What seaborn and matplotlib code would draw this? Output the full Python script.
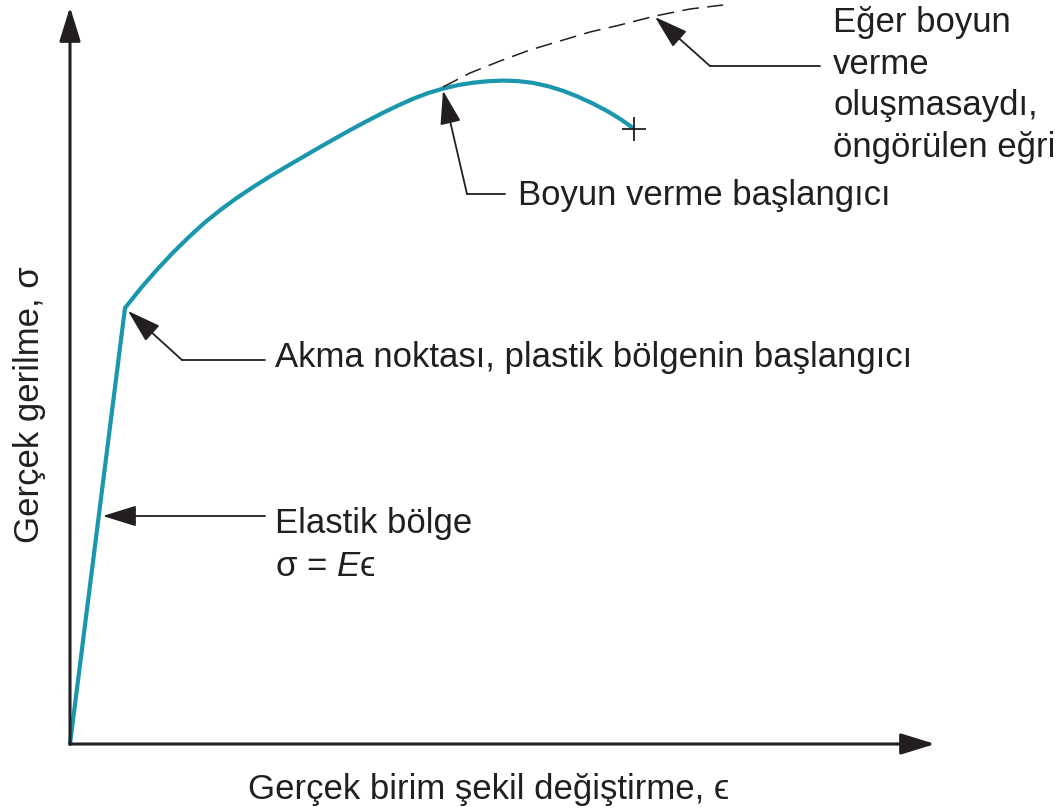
import matplotlib
matplotlib.use("Agg")
import matplotlib.pyplot as plt
import seaborn as sns
import pandas as pd

# True strain / true stress values (arbitrary units)
elastic_strain = [0.00, 0.55]
elastic_stress = [0.00, 4.36]

plastic_strain = [0.55, 0.71, 0.87, 1.03, 1.19, 1.35, 1.51, 1.67, 1.83, 1.99,
                  2.15, 2.31, 2.47, 2.63, 2.79, 2.95, 3.11, 3.27, 3.43, 3.58,
                  3.73, 3.88, 4.03, 4.18, 4.33, 4.48, 4.63, 4.78, 4.93, 5.08,
                  5.23, 5.38, 5.51, 5.64]
plastic_stress = [4.360, 4.560, 4.744, 4.914, 5.071, 5.217, 5.345, 5.462, 5.569, 5.670,
                  5.766, 5.859, 5.952, 6.043, 6.133, 6.219, 6.302, 6.380, 6.452, 6.509,
                  6.554, 6.589, 6.613, 6.628, 6.634, 6.629, 6.611, 6.578, 6.532, 6.473,
                  6.404, 6.325, 6.245, 6.154]

# Extrapolated curve had necking not occurred
predicted_strain = [3.73, 4.00, 4.30, 4.60, 4.90, 5.20, 5.50, 5.85, 6.20, 6.53]
predicted_stress = [6.57, 6.71, 6.83, 6.94, 7.03, 7.12, 7.19, 7.28, 7.35, 7.39]

neck_index = 20          # start of necking along the plastic curve
predicted_pointer = 7    # point on the predicted curve the label points to

x_label = "Gerçek birim şekil değiştirme, ϵ"
y_label = "Gerçek gerilme, σ"
label_elastic = ["Elastik bölge", "σ = $\\mathit{E}$ϵ"]
label_yield = "Akma noktası, plastik bölgenin başlangıcı"
label_neck = "Boyun verme başlangıcı"
label_predicted = ["Eğer boyun", "verme", "oluşmasaydı,", "öngörülen eğri"]

sns.set_theme(style="white")
plt.rcParams["font.family"] = ["Liberation Sans", "DejaVu Sans"]
plt.rcParams["mathtext.fontset"] = "custom"
plt.rcParams["mathtext.it"] = "Liberation Sans:italic"
plt.rcParams["mathtext.rm"] = "Liberation Sans"

TEAL = "#1a96ad"
INK = "#231f20"
FS = 25

fig = plt.figure(figsize=(10.6, 8.12), dpi=100)
ax = fig.add_axes([0, 0, 1, 1])
ax.set_xlim(-0.70, 9.90)
ax.set_ylim(-0.67, 7.45)
ax.axis("off")

# Axes drawn as arrows from the origin
axis_arrow = dict(arrowstyle="-|>,head_length=21,head_width=6.5", mutation_scale=1,
                  lw=2.2, color=INK, shrinkA=0, shrinkB=0)
ax.annotate("", xy=(8.65, 0), xytext=(0, 0), arrowprops=axis_arrow)
ax.annotate("", xy=(0, 7.37), xytext=(0, 0), arrowprops=axis_arrow)

# Curves
df_el = pd.DataFrame({"strain": elastic_strain, "stress": elastic_stress})
df_pl = pd.DataFrame({"strain": plastic_strain, "stress": plastic_stress})
df_pr = pd.DataFrame({"strain": predicted_strain, "stress": predicted_stress})

sns.lineplot(data=df_el, x="strain", y="stress", sort=False, estimator=None,
             color=TEAL, lw=3.0, ax=ax, solid_capstyle="round")
sns.lineplot(data=df_pl, x="strain", y="stress", sort=False, estimator=None,
             color=TEAL, lw=3.0, ax=ax, solid_joinstyle="round", solid_capstyle="butt")
pred_line = sns.lineplot(data=df_pr, x="strain", y="stress", sort=False, estimator=None,
                         color=INK, lw=1.1, ax=ax).lines[-1]
pred_line.set_dashes((11, 5.5))
ax.plot(plastic_strain[-1], plastic_stress[-1], marker="+", ms=17, mew=1.3,
        color=INK, zorder=5)

# Callouts: arrow head at the feature, leader bending to a horizontal line
pointer = dict(arrowstyle="-|>,head_length=21,head_width=6.5", mutation_scale=1,
               lw=1.3, color=INK, shrinkA=0, shrinkB=0)


def callout(tip, corner, line_end):
    ax.annotate("", xy=tip, xytext=corner, arrowprops=pointer)
    ax.plot([corner[0], line_end[0]], [corner[1], line_end[1]], color=INK, lw=1.3)


# Elastic region
elastic_tip_y = 2.28
elastic_tip_x = elastic_strain[1] * elastic_tip_y / elastic_stress[1]
callout((elastic_tip_x + 0.04, elastic_tip_y), (elastic_tip_x + 0.5, elastic_tip_y),
        (1.95, elastic_tip_y))
ax.text(2.05, elastic_tip_y - 0.06, label_elastic[0], fontsize=FS, color=INK,
        va="center", ha="left")
ax.text(2.05, elastic_tip_y - 0.49, label_elastic[1], fontsize=FS, color=INK,
        va="center", ha="left")

# Yield point
callout((elastic_strain[1] + 0.03, elastic_stress[1] - 0.03), (1.12, 3.84), (1.95, 3.84))
ax.text(2.05, 3.87, label_yield, fontsize=FS, color=INK, va="center", ha="left")

# Onset of necking
callout((plastic_strain[neck_index], plastic_stress[neck_index] - 0.02), (3.97, 5.50),
        (4.35, 5.50))
ax.text(4.48, 5.50, label_neck, fontsize=FS, color=INK, va="center", ha="left")

# Predicted curve
callout((predicted_strain[predicted_pointer], predicted_stress[predicted_pointer] - 0.01),
        (6.40, 6.78), (7.50, 6.78))
for i, line in enumerate(label_predicted):
    ax.text(7.63, 7.13 - 0.415 * i, line, fontsize=FS, color=INK,
            va="baseline", ha="left")

# Axis titles
ax.text(4.19, -0.45, x_label, fontsize=FS, color=INK, ha="center", va="center")
ax.text(-0.40, 3.40, y_label, fontsize=FS, color=INK, ha="center", va="center",
        rotation=90)

fig.savefig("out.png", dpi=100)
